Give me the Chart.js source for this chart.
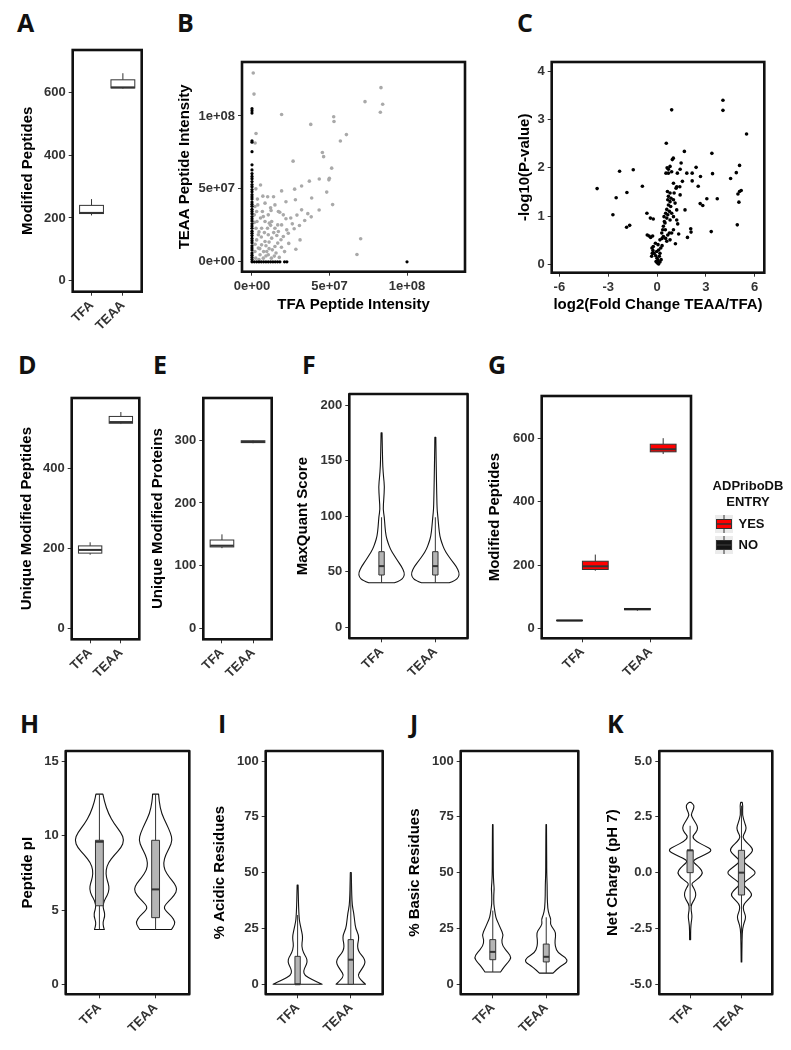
<!DOCTYPE html>
<html><head><meta charset="utf-8">
<script src="https://cdn.jsdelivr.net/npm/chart.js@4.4.1/dist/chart.umd.min.js"></script>
<style>
html,body{margin:0;padding:0;background:#fff;}
#fig{position:relative;width:791px;height:1050px;overflow:hidden;background:#fff;}
#fig canvas{position:absolute;}
.lbl{position:absolute;font-family:"Open Sans","Liberation Sans",sans-serif;font-weight:700;font-size:25px;line-height:25px;color:#111;}
</style></head><body><div id="fig">
<div class="lbl" style="left:17px;top:10px">A</div>
<div class="lbl" style="left:177px;top:10px">B</div>
<div class="lbl" style="left:517px;top:10px">C</div>
<div class="lbl" style="left:18px;top:352px">D</div>
<div class="lbl" style="left:153px;top:352px">E</div>
<div class="lbl" style="left:302px;top:352px">F</div>
<div class="lbl" style="left:488px;top:352px">G</div>
<div class="lbl" style="left:20px;top:711px">H</div>
<div class="lbl" style="left:218px;top:711px">I</div>
<div class="lbl" style="left:410px;top:711px">J</div>
<div class="lbl" style="left:607px;top:711px">K</div>
</div>
<script>
// ---------------- DATA ----------------
const groups = ['TFA', 'TEAA'];

// A: Modified peptides (box stats per group)
const aTicks = [0, 200, 400, 600];
const aLow = [208, 612], aQ1 = [214, 614], aMed = [216, 616], aQ3 = [240, 640], aHigh = [260, 661];

// B: TFA vs TEAA intensity
const bTicks = [0, 5e7, 1e8];
const bTickLabels = ['0e+00', '5e+07', '1e+08'];
const bGreyPoints = [
 [0.08e7,12.95e7],[0.13e7,11.5e7],[1.91e7,10.1e7],[0.26e7,8.8e7],[0.2e7,8.15e7],[3.79e7,9.42e7],[5.27e7,9.95e7],[5.29e7,9.62e7],
 [6.09e7,8.72e7],[5.7e7,8.28e7],[7.29e7,10.98e7],[8.32e7,11.94e7],[8.43e7,10.8e7],[8.28e7,10.25e7],[4.54e7,7.49e7],[4.62e7,7.21e7],
 [5.14e7,6.42e7],[2.65e7,6.9e7],[0.55e7,5.27e7],[4.99e7,5.73e7],[4.96e7,5.62e7],[4.34e7,5.68e7],[3.7e7,5.53e7],[3.2e7,5.2e7],
 [2.75e7,4.98e7],[1.91e7,4.86e7],[4.82e7,4.78e7],[3.85e7,4.37e7],[2.8e7,4.25e7],[1.01e7,4.46e7],[1.39e7,4.46e7],[2.19e7,4.12e7],
 [5.2e7,3.92e7],[4.33e7,3.55e7],[3.2e7,3.56e7],[3.82e7,3.08e7],[3.4e7,2.83e7],[3.06e7,2.49e7],[2.72e7,2.27e7],[2.37e7,1.26e7],
 [2.83e7,0.86e7],[7.01e7,1.58e7],[6.77e7,0.5e7],[1.76e7,0.3e7],[1.44e7,0.39e7],[0.67e7,3.45e7],[1.05e7,3.22e7],[0.84e7,2.76e7],
 [1.27e7,2.76e7],[1.66e7,2.53e7],[1.48e7,2.3e7],[1.7e7,2.08e7],[1.05e7,1.85e7],[1.27e7,1.62e7],[0.84e7,1.39e7],[0.62e7,1.16e7],
 [0.41e7,0.94e7],[0.19e7,0.71e7],[0.52e7,0.48e7],[1.05e7,0.48e7],[0.3e7,3.45e7],[0.19e7,3.79e7],[0.37e7,3.9e7],[0.84e7,4.02e7],
 [1.2e7,3.7e7],[1.48e7,3.9e7],[1.7e7,3.45e7],[2.02e7,3.22e7],[2.19e7,2.95e7],[1.91e7,2.53e7],[2.24e7,2.19e7],[2.34e7,1.96e7],
 [2.02e7,1.73e7],[1.87e7,1.51e7],[1.66e7,1.28e7],[1.48e7,1.05e7],[1.31e7,0.82e7],[0.95e7,0.71e7],[0.73e7,0.25e7],[0.24e7,0.25e7],
 [0.41e7,1.85e7],[0.26e7,2.3e7],[0.62e7,2.3e7],[0.32e7,2.76e7],[0.15e7,3.22e7],[0.5e7,0.9e7],[0.9e7,1.1e7],[1.1e7,1.35e7],
 [0.3e7,1.5e7],[0.6e7,1.7e7],[0.8e7,2.0e7],[1.0e7,2.3e7],[1.2e7,2.5e7],[1.4e7,2.0e7],[1.6e7,1.8e7],[1.1e7,0.9e7],
 [0.9e7,0.4e7],[1.25e7,0.25e7],[0.45e7,0.15e7],[0.2e7,1.2e7],[0.15e7,2.7e7],[0.55e7,3.0e7],[2.5e7,3.0e7],[2.6e7,2.6e7],
 [2.9e7,3.2e7],[3.1e7,1.5e7],[2.1e7,0.7e7],[1.9e7,1.0e7],[0.35e7,4.3e7],[0.7e7,4.5e7],[0.25e7,5.0e7],[3.6e7,3.3e7],
 [0.45e7,2.05e7],[0.75e7,0.7e7],[1.55e7,0.6e7],[1.23e7,3.52e7],[1.79e7,3.4e7],[0.73e7,3.1e7],[1.12e7,2.65e7]
];
const bBlackPoints = [
 [0,10.5e7],[0,10.35e7],[0,10.2e7],[0,8.3e7],[0,8.2e7],[0,7.55e7],[0,6.65e7],[0,6.3e7],[0,6.05e7],[0,5.85e7],[0,5.7e7],
 [0,5.5e7],[0,5.3e7],[0,5.15e7],[0,4.95e7],[0,4.8e7],[0,4.6e7],[0,4.45e7],[0,4.3e7],[0,4.1e7],[0,3.95e7],[0,3.8e7],
 [0,3.6e7],[0,3.45e7],[0,3.3e7],[0,3.1e7],[0,2.95e7],[0,2.8e7],[0,2.6e7],[0,2.45e7],[0,2.3e7],[0,2.1e7],[0,1.95e7],
 [0,1.8e7],[0,1.6e7],[0,1.45e7],[0,1.3e7],[0,1.1e7],[0,0.95e7],[0,0.8e7],[0,0.6e7],[0,0.45e7],[0,0.3e7],[0,0.15e7],[0,0],
 [0.15e7,0],[0.3e7,0],[0.45e7,0],[0.6e7,0],[0.75e7,0],[0.9e7,0],[1.05e7,0],[1.2e7,0],[1.35e7,0],[1.5e7,0],[1.65e7,0],
 [1.8e7,0],[2.1e7,0],[2.25e7,0],[10.0e7,0]
];

// C: volcano
const cXTicks = [-6, -3, 0, 3, 6];
const cYTicks = [0, 1, 2, 3, 4];
const cPoints = [
 [-3.68,1.57],[-2.71,1.03],[-2.51,1.38],[-2.30,1.93],[-1.85,1.49],[-1.87,0.77],[-1.68,0.81],[-1.46,1.96],[-0.90,1.62],
 [-0.62,1.06],[-0.60,0.61],[-0.49,0.59],[-0.39,0.56],[-0.41,0.96],[-0.23,0.94],[-0.27,0.59],
 [0.57,2.51],[0.90,3.20],[0.62,2.00],[0.70,1.97],[0.94,2.17],[1.00,2.20],[1.25,1.89],[1.42,1.97],[1.48,2.10],[1.68,2.34],
 [1.83,1.89],[2.16,1.89],[2.16,1.73],[1.56,1.72],[1.40,1.61],[1.17,1.58],[1.42,1.44],[1.21,1.13],[1.72,1.13],[1.21,0.92],
 [1.27,0.84],[1.33,0.63],[1.13,0.43],[1.87,0.56],[2.09,0.67],[2.07,0.74],[2.40,2.01],[2.53,1.62],[2.67,1.82],[2.65,1.26],
 [2.81,1.22],[3.06,1.36],[3.37,2.30],[3.41,1.88],[3.70,1.36],[3.33,0.68],[4.05,3.40],[4.05,3.19],[4.52,1.78],[4.87,1.90],
 [5.07,2.05],[4.97,1.46],[5.07,1.51],[5.17,1.53],[5.03,1.29],[4.93,0.82],[5.50,2.70],[0.90,1.92],
 [0.64,1.51],[0.80,1.48],[0.70,1.41],[0.86,1.37],[0.66,1.34],[0.80,1.30],[0.70,1.23],[0.84,1.20],[0.60,1.14],[0.76,1.10],
 [0.53,1.06],[0.66,1.03],[0.60,0.96],[0.80,0.92],[0.49,0.86],[0.39,0.79],[0.35,0.72],[0.29,0.65],[0.39,0.58],[0.53,0.54],
 [0.66,0.61],[0.76,0.65],[0.60,0.48],[0.80,0.51],[0.90,0.65],[1.01,0.72],[1.01,0.99],[0.90,1.06],[1.11,1.27],[1.01,1.34],
 [1.05,1.48],[1.21,1.61],[1.01,1.68],[0.70,1.89],[0.80,2.03],[0.55,1.89],[0.43,0.99],[0.45,0.89],[0.51,0.72],
 [-0.31,0.34],[-0.25,0.29],[-0.18,0.23],[-0.08,0.18],[0.00,0.13],[0.06,0.08],[-0.06,0.06],[0.02,0.03],[0.10,0.01],[0.18,0.05],
 [0.25,0.10],[0.14,0.17],[0.18,0.23],[0.10,0.30],[0.23,0.34],[0.31,0.39],[0.06,0.41],[-0.10,0.44],[0.18,0.51],[0.31,0.54],
 [-0.33,0.17],[-0.29,0.23],[-0.23,0.37],[-0.02,0.27]
];

// D: unique modified peptides
const dTicks = [0, 200, 400];
const dLow = [185, 511], dQ1 = [189, 513], dMed = [197, 516], dQ3 = [207, 530], dHigh = [216, 541];

// E: unique modified proteins
const eTicks = [0, 100, 200, 300];
const eLow = [128, 295], eQ1 = [130, 296], eMed = [132, 297], eQ3 = [141, 299], eHigh = [150, 300];

// F: MaxQuant score violins
const fTicks = [0, 50, 100, 150, 200];
const fTfaVal = [40,42,45,49,55,60,65,70,76,82,90,100,106,115,127,135,145,155,165,175];
const fTfaWidth = [0.239,0.350,0.414,0.429,0.368,0.295,0.230,0.166,0.120,0.083,0.064,0.050,0.028,0.041,0.055,0.037,0.022,0.017,0.013,0.009];
const fTeaaVal = [40,42,45,49,55,60,65,70,76,82,90,100,106,115,125,135,145,155,171];
const fTeaaWidth = [0.258,0.368,0.433,0.448,0.387,0.304,0.230,0.166,0.120,0.083,0.064,0.046,0.033,0.028,0.024,0.020,0.017,0.013,0.009];
const fLow = [40, 40], fQ1 = [47, 47], fMed = [55, 55], fQ3 = [68, 68], fHigh = [99, 99];

// G: modified peptides by ADPriboDB entry
const gTicks = [0, 200, 400, 600];
const gSeries = ['YES', 'NO'];
const gYesLow = [182, 550], gYesQ1 = [186, 557], gYesMed = [196, 565], gYesQ3 = [212, 581], gYesHigh = [233, 600];
const gNoLow = [24, 56], gNoQ1 = [24.5, 59], gNoMed = [25, 61], gNoQ3 = [26, 63], gNoHigh = [26.5, 64];

// H: peptide pI violins
const hTicks = [0, 5, 10, 15];
const hVal = [3.7,3.9,4.2,4.6,4.9,5.2,5.6,6.0,6.4,6.8,7.2,7.7,8.2,8.7,9.2,9.7,10.2,10.8,11.5,12.3,12.8];
const hTfaWidth = [0.088,0.071,0.062,0.097,0.088,0.062,0.079,0.141,0.176,0.159,0.123,0.115,0.159,0.265,0.388,0.441,0.388,0.265,0.159,0.088,0.062];
const hTeaaWidth = [0.282,0.317,0.353,0.282,0.194,0.141,0.229,0.335,0.388,0.335,0.247,0.159,0.141,0.176,0.247,0.300,0.265,0.194,0.106,0.062,0.053];
const hLow = [3.7, 3.7], hQ1 = [5.3, 4.5], hMed = [9.6, 6.4], hQ3 = [9.7, 9.7], hHigh = [12.8, 12.8];

// I: % acidic residues
const pctTicks = [0, 25, 50, 75, 100];
const iTfaVal = [0,2,4,6,8,10,12,14,17,20,22,25,28,30,35,40,44.5];
const iTfaWidth = [0.46,0.276,0.129,0.110,0.147,0.184,0.165,0.110,0.074,0.092,0.092,0.064,0.037,0.028,0.018,0.013,0.009];
const iTeaaVal = [0,2,4,6,8,10,12,14,16,18,20,22,25,28,32,35,40,45,50];
const iTeaaWidth = [0.276,0.184,0.129,0.184,0.239,0.276,0.239,0.165,0.129,0.129,0.147,0.147,0.092,0.074,0.055,0.028,0.018,0.013,0.009];
const iLow = [0, 0], iQ1 = [0, 0], iMed = [0, 11], iQ3 = [12.5, 20], iHigh = [31, 50];

// J: % basic residues
const jTfaVal = [5.5,8,10,12,14,17,20,22,25,28,30,33,36,40,43,45,50,60,71.5];
const jTfaWidth = [0.146,0.219,0.293,0.347,0.293,0.183,0.165,0.201,0.146,0.091,0.055,0.037,0.018,0.018,0.027,0.018,0.009,0.009,0.005];
const jTeaaVal = [5,8,10,12,14,17,20,23,25,27,29,31,34,40,44,50,60,71.5];
const jTeaaWidth = [0.128,0.256,0.402,0.366,0.219,0.165,0.165,0.183,0.128,0.073,0.091,0.055,0.027,0.018,0.018,0.009,0.009,0.005];
const jLow = [5.5, 5], jQ1 = [11, 10], jMed = [14.5, 12.3], jQ3 = [20, 18], jHigh = [33, 30];

// K: net charge pH 7
const kTicks = [-5, -2.5, 0, 2.5, 5];
const kTickLabels = ['-5.0', '-2.5', '0.0', '2.5', '5.0'];
const kTfaVal = [-3.0,-2.5,-2.2,-2.0,-1.8,-1.6,-1.4,-1.2,-1.0,-0.8,-0.6,-0.5,-0.4,-0.2,0.0,0.2,0.4,0.5,0.6,0.8,1.0,1.2,1.4,1.6,1.8,2.0,2.2,2.4,2.6,2.8,2.95,3.05,3.15];
const kTfaWidth = [0.01,0.01,0.023,0.038,0.029,0.015,0.029,0.087,0.115,0.096,0.048,0.029,0.077,0.192,0.25,0.192,0.096,0.058,0.096,0.288,0.442,0.288,0.115,0.038,0.115,0.154,0.115,0.058,0.015,0.058,0.077,0.067,0.019];
const kTeaaVal = [-4.0,-3.5,-3.0,-2.5,-2.2,-2.0,-1.8,-1.6,-1.4,-1.2,-1.0,-0.8,-0.6,-0.5,-0.4,-0.2,0.0,0.2,0.4,0.5,0.6,0.8,1.0,1.2,1.4,1.6,1.8,2.0,2.2,2.6,3.0,3.15];
const kTeaaWidth = [0.006,0.008,0.012,0.019,0.058,0.087,0.058,0.029,0.048,0.135,0.212,0.154,0.058,0.038,0.067,0.192,0.288,0.192,0.077,0.038,0.058,0.154,0.231,0.173,0.077,0.019,0.067,0.096,0.067,0.015,0.029,0.015];
const kLow = [-1.5, -3], kQ1 = [0, -1], kMed = [1, 0], kQ3 = [1, 1], kHigh = [2.1, 3];

// ---------------- RENDERING ----------------
const FONT = '"Liberation Sans", Arial, Helvetica, sans-serif';
Chart.defaults.font.family = FONT;
const TICKC = '#333333';
const tickFont = {family: FONT, size: 13, weight: 'bold'};
const titleFont = {family: FONT, size: 15, weight: 'bold'};
const gridOpts = {display: true, drawOnChartArea: false, drawTicks: true, tickLength: 4, tickColor: '#333', tickWidth: 1};
const catPos = groups.map((g, i) => i + 1);

function smoothPath(ctx, pts, first) {
  if (first) ctx.moveTo(pts[0][0], pts[0][1]); else ctx.lineTo(pts[0][0], pts[0][1]);
  for (let i = 1; i < pts.length - 1; i++) {
    const mx = (pts[i][0] + pts[i + 1][0]) / 2, my = (pts[i][1] + pts[i + 1][1]) / 2;
    ctx.quadraticCurveTo(pts[i][0], pts[i][1], mx, my);
  }
  const l = pts[pts.length - 1];
  ctx.lineTo(l[0], l[1]);
}

const boxViolin = {
  id: 'boxViolin',
  afterDatasetsDraw(chart, args, o) {
    const {ctx, chartArea: ca} = chart;
    const xs = chart.scales.x, ys = chart.scales.y;
    ctx.save();
    (o.violins || []).forEach(v => {
      const L = v.values.map((val, i) => [xs.getPixelForValue(v.pos - v.widths[i]), ys.getPixelForValue(val)]);
      const R = v.values.map((val, i) => [xs.getPixelForValue(v.pos + v.widths[i]), ys.getPixelForValue(val)]).reverse();
      ctx.beginPath();
      smoothPath(ctx, L, true);
      smoothPath(ctx, R, false);
      ctx.closePath();
      ctx.fillStyle = '#ffffff'; ctx.fill();
      ctx.lineWidth = 1.1; ctx.strokeStyle = '#111'; ctx.lineJoin = 'round'; ctx.stroke();
    });
    (o.boxes || []).forEach(b => {
      const x0 = xs.getPixelForValue(b.pos - b.half), x1 = xs.getPixelForValue(b.pos + b.half), xm = xs.getPixelForValue(b.pos);
      const yl = ys.getPixelForValue(b.low), y1 = ys.getPixelForValue(b.q1), ym = ys.getPixelForValue(b.med),
            y3 = ys.getPixelForValue(b.q3), yh = ys.getPixelForValue(b.high);
      ctx.strokeStyle = b.stroke; ctx.lineWidth = 1;
      ctx.beginPath(); ctx.moveTo(xm, yh); ctx.lineTo(xm, y3); ctx.moveTo(xm, y1); ctx.lineTo(xm, yl); ctx.stroke();
      ctx.fillStyle = b.fill; ctx.fillRect(x0, y3, x1 - x0, y1 - y3);
      ctx.strokeRect(x0, y3, x1 - x0, y1 - y3);
      ctx.lineWidth = 2; ctx.beginPath(); ctx.moveTo(x0, ym); ctx.lineTo(x1, ym); ctx.stroke();
    });
    ctx.lineWidth = 2.6; ctx.strokeStyle = '#111';
    ctx.strokeRect(ca.left, ca.top, ca.right - ca.left, ca.bottom - ca.top);
    ctx.restore();
  }
};

// keeps the legend box at a fixed width so the plot area stays put
const legendWidth = {
  id: 'legendWidth',
  beforeLayout(chart, args, o) {
    const lg = chart.legend;
    if (lg && o.width && !lg.__fixed) {
      const fit = lg.fit.bind(lg);
      lg.fit = function () { fit(); this.width = o.width; };
      lg.__fixed = true;
    }
  }
};

function mkBoxes(pos, half, low, q1, med, q3, high, fill, stroke) {
  return pos.map((p, i) => ({pos: p, half, low: low[i], q1: q1[i], med: med[i], q3: q3[i], high: high[i], fill, stroke}));
}
function mkViolin(pos, values, widths) { return {pos, values, widths}; }

function valAxis(min, max, ticks, labels) {
  return {
    type: 'linear', min, max,
    afterBuildTicks: s => { s.ticks = ticks.map(v => ({value: v})); },
    ticks: {callback: (v, i) => labels ? labels[i] : String(v), font: tickFont, color: TICKC, padding: 3, autoSkip: false, minRotation: 0, maxRotation: 0},
    grid: gridOpts, border: {display: false}
  };
}
function catAxis(labels) {
  return {
    type: 'linear', min: 0.4, max: 2.6,
    afterBuildTicks: s => { s.ticks = catPos.map(v => ({value: v})); },
    ticks: {callback: (v, i) => labels[i], font: tickFont, color: TICKC, padding: 2, autoSkip: false, minRotation: 45, maxRotation: 45},
    grid: gridOpts, border: {display: false}
  };
}

function panel(cfg) {
  const [l, t, r, b] = cfg.rect;
  const padTop = 12;
  const extraRight = cfg.extraRight || 0;
  const cl = Math.round(cfg.yTitleX - 9);
  const ct = Math.round(t - padTop);
  const cr = r + extraRight + (cfg.padR != null ? cfg.padR : 10);
  const cb = cfg.xTitleY ? cfg.xTitleY + 9 : b + 52;
  const W = Math.round(cr - cl), H = Math.round(cb - ct);
  const yW = l - cl;
  const xH = H - (b - ct);
  const padRight = W - (r - cl) - extraRight;
  const canvas = document.createElement('canvas');
  canvas.width = W; canvas.height = H;
  canvas.style.left = cl + 'px'; canvas.style.top = ct + 'px';
  canvas.style.width = W + 'px'; canvas.style.height = H + 'px';
  document.getElementById('fig').appendChild(canvas);
  const x = cfg.x; const y = cfg.y;
  x.afterFit = s => { s.height = xH; };
  y.afterFit = s => { s.width = yW; };
  y.title = {display: true, text: cfg.yTitle, font: titleFont, color: '#000', padding: {top: 0, bottom: 0}};
  if (cfg.xTitle) x.title = {display: true, text: cfg.xTitle, font: titleFont, color: '#000', padding: {top: 0, bottom: 0}};
  const scales = {x, y};
  if (cfg.spacer) {
    scales.y2 = {type: 'linear', position: 'right', display: true, grid: {display: false}, ticks: {display: false},
      border: {display: false}, afterFit: s => { s.width = cfg.spacer; }};
  }
  return new Chart(canvas, {
    type: 'scatter',
    data: {datasets: cfg.datasets || []},
    options: {
      responsive: false, animation: false, devicePixelRatio: 1,
      layout: {padding: {top: padTop, right: padRight, left: 0, bottom: 0}},
      scales,
      plugins: {
        legend: cfg.legend || {display: false},
        legendWidth: {width: cfg.legendW || 0},
        tooltip: {enabled: false},
        boxViolin: {boxes: cfg.boxes || [], violins: cfg.violins || []}
      },
      elements: {point: {borderWidth: 0}}
    },
    plugins: [legendWidth, boxViolin]
  });
}

// A
panel({rect: [72.7, 50, 141.7, 291.7], yTitleX: 28, yTitle: 'Modified Peptides',
  x: catAxis(groups), y: valAxis(-35, 735, aTicks),
  boxes: mkBoxes(catPos, 0.38, aLow, aQ1, aMed, aQ3, aHigh, '#ffffff', '#333')});

// B
panel({rect: [242, 62.3, 465, 271.7], yTitleX: 185, xTitleY: 305,
  yTitle: 'TEAA Peptide Intensity', xTitle: 'TFA Peptide Intensity',
  x: valAxis(-0.645e7, 13.74e7, bTicks, bTickLabels), y: valAxis(-0.68e7, 13.7e7, bTicks, bTickLabels),
  datasets: [
    {label: 'one condition only', data: bBlackPoints.map(p => ({x: p[0], y: p[1]})), backgroundColor: '#000', pointRadius: 1.6, order: 0},
    {label: 'both conditions', data: bGreyPoints.map(p => ({x: p[0], y: p[1]})), backgroundColor: '#a9a9a9', pointRadius: 1.8, order: 1}
  ]});

// C
panel({rect: [551.7, 62.3, 764.3, 272.7], yTitleX: 525, xTitleY: 305,
  yTitle: '-log10(P-value)', xTitle: 'log2(Fold Change TEAA/TFA)',
  x: valAxis(-6.47, 6.59, cXTicks), y: valAxis(-0.17, 4.19, cYTicks),
  datasets: [{label: 'peptides', data: cPoints.map(p => ({x: p[0], y: p[1]})), backgroundColor: '#000', pointRadius: 1.8}]});

// D
panel({rect: [71.7, 398.3, 139.3, 639.3], yTitleX: 27, yTitle: 'Unique Modified Peptides',
  x: catAxis(groups), y: valAxis(-26, 576, dTicks),
  boxes: mkBoxes(catPos, 0.38, dLow, dQ1, dMed, dQ3, dHigh, '#ffffff', '#333')});

// E
panel({rect: [203.3, 398.3, 271.7, 639.3], yTitleX: 158, yTitle: 'Unique Modified Proteins',
  x: catAxis(groups), y: valAxis(-17, 367, eTicks),
  boxes: mkBoxes(catPos, 0.38, eLow, eQ1, eMed, eQ3, eHigh, '#ffffff', '#333')});

// F
panel({rect: [349.3, 394, 467.6, 638.3], yTitleX: 303, yTitle: 'MaxQuant Score',
  x: catAxis(groups), y: valAxis(-10, 210, fTicks),
  violins: [mkViolin(catPos[0], fTfaVal, fTfaWidth), mkViolin(catPos[1], fTeaaVal, fTeaaWidth)],
  boxes: mkBoxes(catPos, 0.05, fLow, fQ1, fMed, fQ3, fHigh, '#b5b5b5', '#333')});

// G
function keyImage(fill) {
  const c = document.createElement('canvas'); c.width = 18; c.height = 18;
  const g = c.getContext('2d');
  g.fillStyle = '#ebebeb'; g.fillRect(0, 0, 18, 18);
  g.strokeStyle = '#333'; g.lineWidth = 1;
  g.beginPath(); g.moveTo(9, 0); g.lineTo(9, 4); g.moveTo(9, 14); g.lineTo(9, 18); g.stroke();
  g.fillStyle = fill; g.fillRect(1.5, 4.5, 15, 9);
  g.strokeRect(1.5, 4.5, 15, 9);
  g.lineWidth = 1.5; g.beginPath(); g.moveTo(1.5, 9); g.lineTo(16.5, 9); g.stroke();
  return c;
}
const gColors = {YES: '#ff0000', NO: '#151515'};
panel({rect: [541.7, 396, 691, 638.3], yTitleX: 495, yTitle: 'Modified Peptides',
  extraRight: 17 + 80, spacer: 17, legendW: 80, padR: 1,
  x: catAxis(groups), y: valAxis(-31, 733, gTicks),
  datasets: gSeries.map(s => ({label: s, data: [], pointStyle: keyImage(gColors[s]), backgroundColor: gColors[s]})),
  legend: {display: true, position: 'right', fullSize: false, align: 'center',
    labels: {usePointStyle: true, pointStyleWidth: 16, padding: 8, font: {family: FONT, size: 13, weight: 'bold'}, color: '#111'},
    title: {display: true, text: ['ADPriboDB', 'ENTRY'], font: {family: FONT, size: 13, weight: 'bold'}, color: '#111', padding: {top: 5, bottom: 14}}},
  boxes: mkBoxes(catPos.map(p => p - 0.19), 0.19, gNoLow, gNoQ1, gNoMed, gNoQ3, gNoHigh, gColors.NO, '#222')
    .concat(mkBoxes(catPos.map(p => p + 0.19), 0.19, gYesLow, gYesQ1, gYesMed, gYesQ3, gYesHigh, gColors.YES, '#333'))});

// H
panel({rect: [65.7, 751, 189.3, 994.3], yTitleX: 28, yTitle: 'Peptide pI',
  x: catAxis(groups), y: valAxis(-0.65, 15.7, hTicks),
  violins: [mkViolin(catPos[0], hVal, hTfaWidth), mkViolin(catPos[1], hVal, hTeaaWidth)],
  boxes: mkBoxes(catPos, 0.07, hLow, hQ1, hMed, hQ3, hHigh, '#b5b5b5', '#333')});

// I
panel({rect: [265.7, 751, 382.7, 994.3], yTitleX: 220, yTitle: '% Acidic Residues',
  x: catAxis(groups), y: valAxis(-4.5, 104.5, pctTicks),
  violins: [mkViolin(catPos[0], iTfaVal, iTfaWidth), mkViolin(catPos[1], iTeaaVal, iTeaaWidth)],
  boxes: mkBoxes(catPos, 0.05, iLow, iQ1, iMed, iQ3, iHigh, '#b5b5b5', '#333')});

// J
panel({rect: [460.7, 751, 578.3, 994.3], yTitleX: 415, yTitle: '% Basic Residues',
  x: catAxis(groups), y: valAxis(-4.5, 104.5, pctTicks),
  violins: [mkViolin(catPos[0], jTfaVal, jTfaWidth), mkViolin(catPos[1], jTeaaVal, jTeaaWidth)],
  boxes: mkBoxes(catPos, 0.055, jLow, jQ1, jMed, jQ3, jHigh, '#b5b5b5', '#333')});

// K
panel({rect: [659.3, 751, 772.3, 994.3], yTitleX: 613, yTitle: 'Net Charge (pH 7)',
  x: catAxis(groups), y: valAxis(-5.45, 5.45, kTicks, kTickLabels),
  violins: [mkViolin(catPos[0], kTfaVal, kTfaWidth), mkViolin(catPos[1], kTeaaVal, kTeaaWidth)],
  boxes: mkBoxes(catPos, 0.06, kLow, kQ1, kMed, kQ3, kHigh, '#b5b5b5', '#333')});
</script>
</body></html>
